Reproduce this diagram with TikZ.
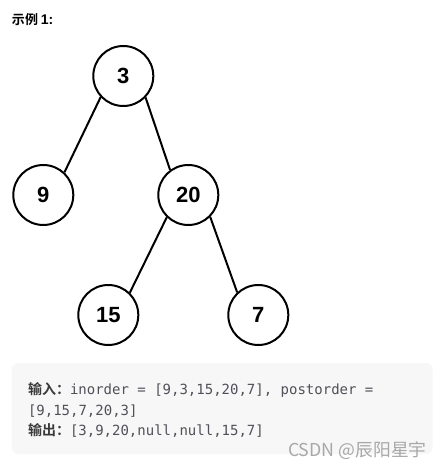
\documentclass[tikz,border=0pt]{standalone}
\usepackage{fontspec}
\setmainfont{Liberation Sans}
\newfontfamily\cjk{Noto Sans CJK SC}[BoldFont={Noto Sans CJK SC Bold}]
\newfontfamily\monof{DejaVu Sans Mono}
\definecolor{boxfill}{HTML}{F7F7F7}
\definecolor{labelc}{HTML}{3A3A3A}
\definecolor{codec}{HTML}{505058}
\definecolor{wmark}{HTML}{A8A8A8}
\begin{document}
\begin{tikzpicture}[x=1pt,y=-1pt,
  tnode/.style={circle,draw,line width=2pt,minimum size=60pt,inner sep=0pt,
    font=\fontsize{22}{24}\selectfont\bfseries},
  edge/.style={line width=2pt},
  txt/.style={anchor=base west,inner sep=0pt,outer sep=0pt}]
\useasboundingbox (0,0) rectangle (440,470);
\fill[white] (0,0) rectangle (440,470);
% title
\node[txt,text=black] (title) at (12,24.5) {{\cjk\bfseries\fontsize{13}{15}\selectfont 示例 }{\bfseries\fontsize{14}{16}\selectfont 1:}};
% tree
\node[tnode] (n3) at (123.3,76) {3};
\node[tnode] (n9) at (43.3,195) {9};
\node[tnode] (n20) at (188.3,195) {20};
\node[tnode] (n15) at (108.3,315) {15};
\node[tnode] (n7) at (258.3,315) {7};
\draw[edge] (n3.223) -- (n9.47);
\draw[edge] (n3.316) -- (n20.126);
\draw[edge] (n20.226) -- (n15.46);
\draw[edge] (n20.315) -- (n7.133);
% example box
\fill[boxfill,rounded corners=7pt] (11.7,363) rectangle (432.7,454);
\node[txt] (l1) at (28,394.5) {{\cjk\bfseries\fontsize{14}{16}\selectfont\color{labelc}输入：}{\monof\fontsize{14}{16}\selectfont\color{codec}inorder = [9,3,15,20,7], postorder =}};
\node[txt] (l2) at (28,415) {\monof\fontsize{14}{16}\selectfont\color{codec}[9,15,7,20,3]};
\node[txt] (l3) at (28,435) {{\cjk\bfseries\fontsize{14}{16}\selectfont\color{labelc}输出：}{\monof\fontsize{14}{16}\selectfont\color{codec}[3,9,20,null,null,15,7]}};
% watermark
\node[txt,font=\cjk\fontsize{17.8}{19}\selectfont,text=wmark] (wm) at (288,456.5) {CSDN @辰阳星宇};
\end{tikzpicture}
\end{document}
